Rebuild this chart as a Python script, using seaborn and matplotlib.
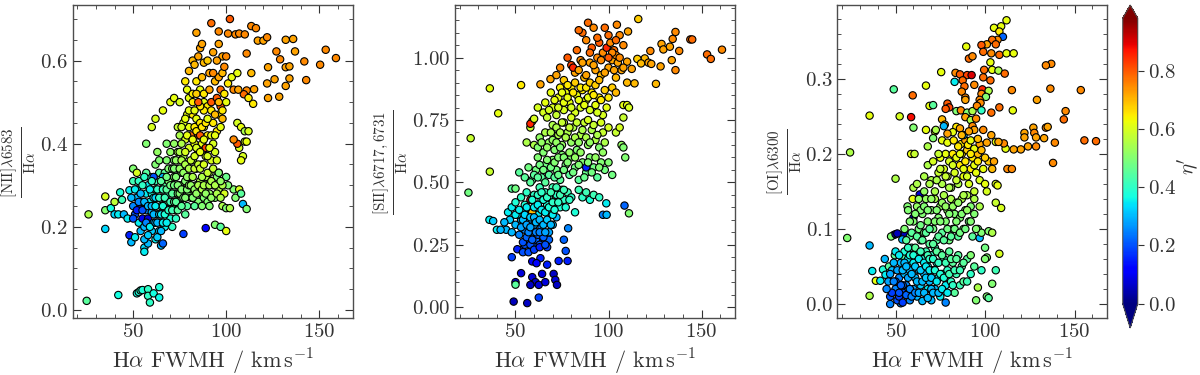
import numpy as np
import pandas as pd
import seaborn as sns
import matplotlib.pyplot as plt
from matplotlib.ticker import MultipleLocator
from matplotlib.cm import ScalarMappable
from matplotlib.colors import Normalize

# ---------------- panel 1 : [NII]/Ha ----------------
nii_fwhm = [
    25, 42, 52, 53, 54, 55, 58, 58, 59, 61, 64, 64,
    26, 35, 35, 35, 38, 40, 40, 42, 43, 44, 45, 47, 48, 48, 49, 50, 50, 51, 52, 56, 56, 58, 62, 65,
    66, 77, 89, 94, 97, 100,
    98, 100, 102, 104, 105, 107, 108, 109, 111, 101, 100, 96,
    106, 108, 110, 110, 109, 108, 107, 106, 104, 112, 111,
    60, 57, 62, 63, 66, 70, 72, 75, 78, 80, 80, 82, 84, 86, 87, 88, 90, 91, 92,
    96, 96, 98, 100, 101, 102, 94, 96, 98, 99, 101, 103, 104, 106, 84, 86, 88, 90, 92,
    95, 97, 83, 85, 93, 95, 97, 99, 79, 82,
    113.5, 116, 105, 107, 110, 117, 120, 122, 132, 136, 127, 137, 153.5, 159, 150.5, 142, 132, 134,
    122.5, 129, 111, 113.5, 126, 134, 143, 132, 115, 111, 122, 128.5, 122.5, 109.5, 114.5, 112, 106.5,
    50, 51, 52, 53, 52, 54, 55, 53, 54, 55,
    56, 57, 57, 58, 58, 59, 59, 60, 60, 60, 56, 58, 57,
    61, 61, 62, 62, 63, 63, 64, 64, 65, 65, 62, 64, 63, 65, 61,
    66, 66, 67, 67, 68, 68, 69, 69, 70, 70, 70, 67, 68, 69, 66,
    71, 71, 72, 72, 73, 73, 74, 74, 75, 75, 72, 73, 75, 74, 71,
    76, 76, 77, 77, 78, 78, 79, 79, 80, 80, 80, 77, 78, 79, 76,
    81, 81, 82, 82, 83, 83, 84, 84, 85, 85, 82, 84, 85, 81, 83,
    86, 86, 87, 87, 88, 88, 89, 89, 90, 90, 86, 88, 90, 89, 87,
    91, 91, 92, 92, 93, 93, 94, 94, 95, 95, 96, 96, 91, 93, 97, 98, 98, 99,
]
nii_ratio = [
    0.022, 0.036, 0.040, 0.043, 0.047, 0.048, 0.050, 0.034, 0.018, 0.040, 0.055, 0.030,
    0.230, 0.195, 0.273, 0.240, 0.245, 0.260, 0.230, 0.230, 0.283, 0.265, 0.230, 0.220, 0.288, 0.180,
    0.163, 0.340, 0.310, 0.175, 0.330, 0.150, 0.140, 0.160, 0.170, 0.155,
    0.160, 0.183, 0.197, 0.205, 0.200, 0.190,
    0.250, 0.245, 0.245, 0.290, 0.270, 0.290, 0.280, 0.255, 0.243, 0.300, 0.320, 0.330,
    0.450, 0.440, 0.430, 0.405, 0.370, 0.360, 0.390, 0.400, 0.410, 0.430, 0.405,
    0.440, 0.400, 0.460, 0.380, 0.480, 0.500, 0.510, 0.500, 0.550, 0.575, 0.510, 0.600, 0.667, 0.630,
    0.640, 0.595, 0.600, 0.570, 0.690,
    0.670, 0.640, 0.610, 0.610, 0.665, 0.700, 0.550, 0.560, 0.570, 0.585, 0.545, 0.560, 0.530, 0.570,
    0.550, 0.530, 0.500, 0.490, 0.500,
    0.510, 0.490, 0.590, 0.610, 0.620, 0.600, 0.530, 0.520, 0.530, 0.520,
    0.683, 0.678, 0.663, 0.665, 0.663, 0.648, 0.648, 0.656, 0.650, 0.652, 0.622, 0.622, 0.626, 0.606,
    0.590, 0.598, 0.584, 0.586,
    0.584, 0.603, 0.617, 0.570, 0.555, 0.557, 0.553, 0.539, 0.531, 0.528, 0.545, 0.513, 0.510, 0.519,
    0.496, 0.510, 0.530,
    0.25, 0.23, 0.27, 0.21, 0.29, 0.245, 0.22, 0.31, 0.19, 0.26,
    0.20, 0.24, 0.28, 0.30, 0.22, 0.26, 0.32, 0.19, 0.235, 0.28, 0.17, 0.18, 0.33,
    0.21, 0.25, 0.29, 0.31, 0.23, 0.27, 0.19, 0.33, 0.25, 0.29, 0.35, 0.36, 0.175, 0.21, 0.32,
    0.23, 0.27, 0.30, 0.33, 0.25, 0.36, 0.28, 0.31, 0.22, 0.34, 0.38, 0.20, 0.40, 0.26, 0.32,
    0.26, 0.30, 0.32, 0.36, 0.24, 0.28, 0.34, 0.38, 0.30, 0.42, 0.40, 0.22, 0.26, 0.44, 0.20,
    0.27, 0.33, 0.29, 0.37, 0.31, 0.41, 0.25, 0.35, 0.28, 0.39, 0.44, 0.45, 0.23, 0.47, 0.40,
    0.27, 0.32, 0.29, 0.36, 0.40, 0.44, 0.30, 0.34, 0.38, 0.42, 0.47, 0.46, 0.26, 0.42, 0.25,
    0.28, 0.31, 0.35, 0.40, 0.44, 0.27, 0.32, 0.37, 0.30, 0.42, 0.45, 0.48, 0.26, 0.39, 0.25,
    0.28, 0.33, 0.36, 0.42, 0.30, 0.45, 0.27, 0.38, 0.32, 0.43, 0.29, 0.47, 0.25, 0.40, 0.44, 0.46,
    0.30, 0.28,
]
nii_eta = [
    0.45, 0.37, 0.37, 0.38, 0.40, 0.38, 0.40, 0.40, 0.40, 0.37, 0.38, 0.36,
    0.55, 0.33, 0.60, 0.50, 0.37, 0.57, 0.33, 0.35, 0.38, 0.42, 0.30, 0.35, 0.35, 0.15,
    0.30, 0.50, 0.42, 0.35, 0.60, 0.33, 0.35, 0.30, 0.35, 0.30,
    0.22, 0.18, 0.12, 0.50, 0.45, 0.62,
    0.55, 0.50, 0.55, 0.50, 0.50, 0.60, 0.45, 0.30, 0.50, 0.50, 0.47, 0.38,
    0.60, 0.62, 0.55, 0.60, 0.60, 0.62, 0.60, 0.80, 0.75, 0.60, 0.62,
    0.60, 0.50, 0.60, 0.52, 0.62, 0.62, 0.62, 0.60, 0.65, 0.70, 0.62, 0.70, 0.72, 0.72,
    0.72, 0.70, 0.68, 0.72, 0.78,
    0.75, 0.72, 0.72, 0.75, 0.75, 0.80, 0.70, 0.72, 0.70, 0.75, 0.65, 0.62, 0.75, 0.62,
    0.65, 0.62, 0.62, 0.65, 0.80,
    0.80, 0.80, 0.70, 0.72, 0.72, 0.72, 0.78, 0.65, 0.62, 0.65,
    0.75, 0.75, 0.75, 0.75, 0.75, 0.72, 0.72, 0.75, 0.72, 0.72, 0.75, 0.72, 0.75, 0.75,
    0.75, 0.75, 0.72, 0.72,
    0.72, 0.75, 0.75, 0.70, 0.72, 0.72, 0.75, 0.72, 0.72, 0.75, 0.72, 0.72, 0.72, 0.78,
    0.65, 0.65, 0.72,
    0.25, 0.20, 0.30, 0.35, 0.35, 0.08, 0.10, 0.40, 0.30, 0.30,
    0.30, 0.25, 0.35, 0.35, 0.08, 0.35, 0.40, 0.32, 0.30, 0.38, 0.30, 0.32, 0.45,
    0.30, 0.35, 0.40, 0.42, 0.33, 0.38, 0.32, 0.45, 0.38, 0.45, 0.50, 0.50, 0.32, 0.35, 0.20,
    0.35, 0.40, 0.45, 0.45, 0.40, 0.50, 0.42, 0.50, 0.38, 0.50, 0.52, 0.35, 0.50, 0.45, 0.30,
    0.45, 0.48, 0.50, 0.50, 0.45, 0.45, 0.50, 0.55, 0.50, 0.55, 0.52, 0.40, 0.45, 0.58, 0.40,
    0.48, 0.50, 0.50, 0.55, 0.50, 0.60, 0.45, 0.55, 0.50, 0.60, 0.62, 0.60, 0.45, 0.62, 0.55,
    0.50, 0.52, 0.55, 0.55, 0.62, 0.65, 0.50, 0.55, 0.60, 0.80, 0.65, 0.62, 0.50, 0.78, 0.45,
    0.52, 0.55, 0.60, 0.62, 0.62, 0.50, 0.55, 0.60, 0.55, 0.65, 0.65, 0.65, 0.50, 0.82, 0.50,
    0.52, 0.55, 0.60, 0.62, 0.55, 0.65, 0.50, 0.60, 0.50, 0.65, 0.55, 0.65, 0.50, 0.60, 0.62, 0.70,
    0.55, 0.60,
]
# denser part of the main cloud
nii_fwhm_core = [
    49, 50, 51, 52, 53, 54, 55, 56, 55, 56, 57, 58, 59, 59, 60, 60, 61, 61, 62, 62,
    62, 63, 63, 64, 64, 65, 65, 65, 66, 66, 66, 67, 67, 68, 68, 68, 69, 69, 70, 70,
    71, 71, 71, 72, 72, 72, 73, 73, 73, 74, 74, 74, 75, 75, 75, 76, 76, 76, 77, 77,
    78, 78, 78, 79, 79, 79, 80, 80, 81, 81, 82, 82, 82, 83, 83, 83, 84, 84, 84, 85,
    85, 86, 86, 86, 87, 87, 87, 88, 88, 88, 89, 89, 90, 90, 91, 91, 92, 92, 93, 94,
    94, 95, 95, 96, 97, 97, 76, 78, 80, 82, 84, 86, 88, 90, 92, 94, 96, 98, 100, 83,
    85, 91, 87, 93,
]
nii_ratio_core = [
    0.27, 0.22, 0.29, 0.24, 0.26, 0.28, 0.24, 0.26, 0.30, 0.32, 0.21, 0.25, 0.20, 0.29, 0.25, 0.31,
    0.23, 0.27, 0.21, 0.25,
    0.27, 0.29, 0.21, 0.23, 0.27, 0.19, 0.23, 0.31, 0.21, 0.25, 0.29, 0.23, 0.27, 0.21, 0.29, 0.32,
    0.24, 0.34, 0.26, 0.30,
    0.24, 0.28, 0.34, 0.26, 0.30, 0.34, 0.26, 0.32, 0.36, 0.28, 0.30, 0.24, 0.28, 0.34, 0.38, 0.25,
    0.29, 0.36, 0.27, 0.33,
    0.27, 0.35, 0.38, 0.29, 0.32, 0.42, 0.30, 0.34, 0.30, 0.36, 0.27, 0.32, 0.41, 0.29, 0.34, 0.37,
    0.28, 0.39, 0.43, 0.30,
    0.35, 0.34, 0.38, 0.42, 0.29, 0.32, 0.44, 0.30, 0.35, 0.41, 0.28, 0.45, 0.33, 0.37, 0.30, 0.39,
    0.27, 0.31, 0.34, 0.30,
    0.42, 0.28, 0.36, 0.33, 0.27, 0.31, 0.44, 0.46, 0.48, 0.50, 0.52, 0.49, 0.52, 0.46, 0.48, 0.47,
    0.50, 0.48, 0.50, 0.48,
    0.50, 0.53, 0.56, 0.57,
]
nii_eta_core = [
    0.30, 0.20, 0.35, 0.15, 0.25, 0.30, 0.20, 0.30, 0.40, 0.40, 0.25, 0.30, 0.35, 0.35, 0.30, 0.40,
    0.30, 0.35, 0.30, 0.35,
    0.33, 0.40, 0.30, 0.33, 0.40, 0.30, 0.35, 0.45, 0.35, 0.38, 0.42, 0.38, 0.42, 0.35, 0.45, 0.48,
    0.40, 0.50, 0.42, 0.48,
    0.42, 0.45, 0.50, 0.45, 0.48, 0.50, 0.45, 0.50, 0.52, 0.48, 0.50, 0.45, 0.50, 0.52, 0.55, 0.45,
    0.50, 0.55, 0.48, 0.52,
    0.50, 0.55, 0.60, 0.50, 0.52, 0.62, 0.52, 0.55, 0.52, 0.58, 0.50, 0.55, 0.62, 0.52, 0.58, 0.60,
    0.52, 0.60, 0.65, 0.55,
    0.58, 0.58, 0.62, 0.80, 0.55, 0.55, 0.65, 0.55, 0.60, 0.62, 0.52, 0.65, 0.58, 0.60, 0.55, 0.62,
    0.52, 0.55, 0.58, 0.55,
    0.62, 0.55, 0.60, 0.50, 0.55, 0.52, 0.60, 0.62, 0.62, 0.65, 0.68, 0.65, 0.65, 0.62, 0.65, 0.70,
    0.70, 0.65, 0.62, 0.62,
    0.80, 0.72, 0.70, 0.75,
]

# ---------------- panel 2 : [SII]/Ha ----------------
sii_fwhm = [
    53, 59, 60.7, 62.5, 58, 64.3, 67, 70.5, 71.4, 72.3, 66, 63.4, 59, 61.3, 73.2, 78, 49, 56.3, 62.5, 50,
    50, 48, 53.6, 51, 67, 76, 77, 78.3, 97, 99, 108.6, 111, 98.8, 58, 61, 64, 55, 68, 57, 62,
    36.2, 40.7, 25.9, 36.2, 24.7, 53, 63.4, 68.8,
    45, 47, 48, 50, 52, 53, 54, 55, 56, 57, 58, 59, 60, 61, 62, 63, 64, 65, 66, 68, 70, 72,
    54, 57, 60, 63, 66, 36, 38, 40, 42, 44, 46,
    48, 50, 51, 53, 54, 55, 56, 57, 58, 59, 60, 61, 62, 63, 64, 65, 66, 67, 68, 69, 70,
    71, 72, 74, 75, 76, 78, 80, 82, 84, 86, 88, 90, 92, 95, 59,
    52, 55, 57, 59, 61, 62, 64, 66, 68, 70, 72, 74, 75, 77, 79, 80, 82, 84, 86, 88,
    90, 92, 94, 96, 98, 100, 102, 88, 48, 50,
    56, 58, 60, 62, 63, 65, 66, 68, 70, 71, 73, 75, 76, 78, 80, 81, 83, 85, 87, 89,
    91, 93, 95, 97, 104, 106, 107, 108, 109, 59, 58,
    62, 65, 66, 67, 69, 70, 72, 73, 74, 76, 77, 79, 80, 82, 83, 85, 86, 88, 90, 91,
    93, 95, 97, 99, 108, 110, 111, 108, 60,
    72, 74, 76, 78, 80, 82, 83, 85, 86, 87, 88, 89, 90, 91, 92, 93, 94, 95, 96, 97,
    98, 99, 100, 101, 102, 103, 104, 105, 106, 107, 108, 110, 84, 81,
    116, 104.5, 110.5, 136, 134.5, 144, 145, 128.5, 122.5, 129.5, 133, 138, 153, 155,
    161, 119.5, 121.5, 123, 134, 115.5, 117.5, 128, 136, 125.5, 114, 112.5, 110, 104,
]
sii_ratio = [
    0.136, 0.120, 0.100, 0.089, 0.089, 0.133, 0.170, 0.133, 0.109, 0.089, 0.100, 0.196, 0.183, 0.176,
    0.185, 0.185, 0.022, 0.016, 0.038, 0.100,
    0.090, 0.200, 0.230, 0.232, 0.240, 0.270, 0.225, 0.316, 0.370, 0.370, 0.407, 0.376, 0.416, 0.250,
    0.255, 0.260, 0.250, 0.270, 0.270, 0.280,
    0.877, 0.777, 0.677, 0.543, 0.459, 0.890, 0.893, 0.914,
    0.31, 0.35, 0.30, 0.33, 0.29, 0.35, 0.26, 0.31, 0.28, 0.34, 0.25, 0.30, 0.33, 0.27, 0.29, 0.25,
    0.32, 0.28, 0.34, 0.30, 0.33, 0.36,
    0.22, 0.22, 0.23, 0.24, 0.25, 0.35, 0.345, 0.31, 0.31, 0.34, 0.38,
    0.40, 0.42, 0.37, 0.44, 0.39, 0.41, 0.46, 0.37, 0.43, 0.39, 0.45, 0.41, 0.37, 0.48, 0.43, 0.39,
    0.46, 0.41, 0.44, 0.38, 0.48,
    0.42, 0.45, 0.40, 0.47, 0.43, 0.46, 0.44, 0.38, 0.47, 0.44, 0.46, 0.43, 0.45, 0.44, 0.38,
    0.54, 0.52, 0.56, 0.51, 0.55, 0.60, 0.52, 0.57, 0.53, 0.59, 0.55, 0.51, 0.61, 0.57, 0.53, 0.60,
    0.56, 0.51, 0.58, 0.54,
    0.60, 0.56, 0.52, 0.58, 0.55, 0.58, 0.53, 0.56, 0.475, 0.475,
    0.66, 0.72, 0.65, 0.64, 0.68, 0.62, 0.70, 0.66, 0.73, 0.63, 0.69, 0.65, 0.74, 0.70, 0.66, 0.72,
    0.63, 0.69, 0.74, 0.65,
    0.71, 0.67, 0.64, 0.70, 0.70, 0.72, 0.65, 0.64, 0.60, 0.745, 0.735,
    0.80, 0.78, 0.82, 0.76, 0.86, 0.80, 0.77, 0.84, 0.88, 0.79, 0.86, 0.82, 0.88, 0.78, 0.85, 0.80,
    0.87, 0.83, 0.79, 0.86,
    0.81, 0.84, 0.77, 0.80, 0.81, 0.81, 0.80, 0.76, 0.755,
    0.93, 0.96, 0.91, 1.00, 0.97, 0.94, 1.03, 0.99, 1.10, 0.92, 1.07, 1.14, 0.98, 1.04, 1.12, 0.95,
    1.00, 1.06, 0.93, 1.02,
    1.12, 1.04, 0.96, 1.06, 0.99, 1.03, 0.92, 0.98, 1.09, 0.95, 1.05, 0.90, 1.11, 0.96,
    1.155, 1.132, 1.105, 1.103, 1.075, 1.073, 1.073, 1.055, 1.027, 1.033, 1.044, 1.027, 1.013, 0.995,
    1.032, 0.997, 0.980, 0.975, 0.990, 0.995, 0.977, 0.965, 0.950, 0.895, 0.897, 0.955, 0.984, 1.010,
]
sii_eta = [
    0.08, 0.08, 0.06, 0.08, 0.06, 0.08, 0.15, 0.06, 0.08, 0.06, 0.08, 0.15, 0.10, 0.12, 0.15, 0.15,
    0.05, 0.06, 0.18, 0.08,
    0.45, 0.18, 0.18, 0.15, 0.18, 0.22, 0.20, 0.25, 0.25, 0.30, 0.22, 0.50, 0.35, 0.15, 0.20, 0.20,
    0.20, 0.22, 0.20, 0.20,
    0.62, 0.62, 0.58, 0.58, 0.48, 0.65, 0.72, 0.72,
    0.30, 0.32, 0.30, 0.30, 0.25, 0.30, 0.20, 0.25, 0.22, 0.28, 0.20, 0.25, 0.28, 0.22, 0.22, 0.20,
    0.25, 0.22, 0.30, 0.28, 0.30, 0.30,
    0.20, 0.20, 0.18, 0.15, 0.20, 0.35, 0.32, 0.35, 0.30, 0.30, 0.35,
    0.35, 0.38, 0.35, 0.40, 0.35, 0.38, 0.40, 0.33, 0.90, 0.35, 0.40, 0.38, 0.35, 0.42, 0.38, 0.35,
    0.40, 0.38, 0.40, 0.35, 0.42,
    0.40, 0.40, 0.38, 0.42, 0.40, 0.42, 0.40, 0.38, 0.42, 0.40, 0.42, 0.38, 0.42, 0.40, 0.70,
    0.45, 0.45, 0.48, 0.45, 0.48, 0.50, 0.45, 0.48, 0.45, 0.50, 0.48, 0.45, 0.50, 0.48, 0.45, 0.50,
    0.48, 0.45, 0.50, 0.47,
    0.50, 0.48, 0.45, 0.50, 0.48, 0.50, 0.48, 0.15, 0.45, 0.48,
    0.55, 0.58, 0.55, 0.50, 0.52, 0.50, 0.55, 0.52, 0.55, 0.50, 0.55, 0.52, 0.58, 0.55, 0.52, 0.55,
    0.50, 0.55, 0.58, 0.52,
    0.55, 0.55, 0.50, 0.58, 0.58, 0.60, 0.52, 0.50, 0.50, 0.60, 0.85,
    0.60, 0.60, 0.62, 0.58, 0.62, 0.60, 0.58, 0.62, 0.64, 0.60, 0.62, 0.62, 0.65, 0.60, 0.62, 0.60,
    0.65, 0.62, 0.60, 0.65,
    0.62, 0.65, 0.60, 0.62, 0.62, 0.62, 0.60, 0.58, 0.60,
    0.72, 0.75, 0.68, 0.80, 0.82, 0.72, 0.78, 0.75, 0.78, 0.70, 0.75, 0.78, 0.72, 0.80, 0.75, 0.72,
    0.75, 0.80, 0.70, 0.75,
    0.78, 0.85, 0.72, 0.75, 0.72, 0.78, 0.70, 0.72, 0.75, 0.72, 0.75, 0.70, 0.78, 0.85,
    0.68, 0.75, 0.72, 0.75, 0.75, 0.78, 0.78, 0.72, 0.75, 0.72, 0.72, 0.75, 0.78, 0.78,
    0.75, 0.70, 0.72, 0.72, 0.72, 0.68, 0.70, 0.72, 0.75, 0.70, 0.70, 0.72, 0.72, 0.75,
]
sii_fwhm_core = [
    50, 52, 53, 54, 55, 56, 56, 57, 58, 58, 59, 59, 60, 60, 61, 61, 62, 62, 63, 63,
    64, 64, 65, 65, 66, 66, 67, 67, 68, 69, 69, 70, 70, 71, 72, 73, 74, 76, 77, 79,
    58, 60, 62, 63, 65, 66, 67, 69, 71, 71, 73, 73, 76, 76, 78, 79, 81, 82, 84, 85,
    87, 89, 91, 93, 95, 97, 64, 67, 69, 70, 72, 72, 74, 74, 75, 77, 79, 80, 82, 83,
    84, 86, 88, 89, 90, 92, 94, 96, 98, 100, 68, 71, 73, 75, 76, 78, 78, 80, 81, 82,
    84, 85, 87, 88, 89, 90, 92, 93, 94, 96, 98, 100, 102, 104, 84, 86, 88, 90, 92, 94,
    96, 98, 100, 102, 104, 106, 108, 95, 100, 103,
]
sii_ratio_core = [
    0.37, 0.39, 0.32, 0.35, 0.37, 0.33, 0.40, 0.30, 0.36, 0.32, 0.43, 0.27, 0.36, 0.40, 0.30, 0.34,
    0.41, 0.45, 0.30, 0.35,
    0.39, 0.46, 0.33, 0.43, 0.30, 0.38, 0.35, 0.44, 0.40, 0.33, 0.46, 0.37, 0.42, 0.39, 0.48, 0.42,
    0.45, 0.47, 0.40, 0.43,
    0.50, 0.53, 0.52, 0.57, 0.55, 0.50, 0.59, 0.56, 0.52, 0.58, 0.60, 0.53, 0.55, 0.60, 0.58, 0.62,
    0.54, 0.60, 0.57, 0.62,
    0.52, 0.58, 0.54, 0.60, 0.56, 0.62, 0.66, 0.64, 0.70, 0.67, 0.72, 0.66, 0.70, 0.64, 0.74, 0.68,
    0.72, 0.76, 0.68, 0.74,
    0.66, 0.71, 0.68, 0.75, 0.66, 0.73, 0.69, 0.74, 0.66, 0.72, 0.79, 0.83, 0.80, 0.86, 0.82, 0.89,
    0.84, 0.80, 0.86, 0.90,
    0.83, 0.88, 0.81, 0.88, 0.84, 0.90, 0.85, 0.89, 0.78, 0.83, 0.87, 0.84, 0.88, 0.86, 0.95, 0.98,
    0.93, 1.02, 0.97, 1.08,
    0.99, 0.94, 1.09, 1.02, 1.07, 1.00, 0.96, 0.91, 1.00, 0.95,
]
sii_eta_core = [
    0.35, 0.35, 0.28, 0.30, 0.33, 0.28, 0.35, 0.25, 0.32, 0.28, 0.38, 0.22, 0.30, 0.35, 0.25, 0.30,
    0.35, 0.40, 0.25, 0.30,
    0.35, 0.40, 0.30, 0.38, 0.28, 0.35, 0.32, 0.40, 0.38, 0.30, 0.42, 0.35, 0.40, 0.38, 0.42, 0.40,
    0.42, 0.42, 0.38, 0.40,
    0.45, 0.45, 0.45, 0.48, 0.48, 0.45, 0.50, 0.48, 0.45, 0.50, 0.50, 0.47, 0.48, 0.50, 0.50, 0.52,
    0.48, 0.52, 0.50, 0.52,
    0.47, 0.50, 0.48, 0.52, 0.50, 0.52, 0.52, 0.52, 0.55, 0.52, 0.55, 0.52, 0.55, 0.50, 0.58, 0.55,
    0.58, 0.60, 0.55, 0.58,
    0.52, 0.55, 0.55, 0.60, 0.52, 0.58, 0.55, 0.60, 0.55, 0.60, 0.60, 0.62, 0.60, 0.62, 0.62, 0.65,
    0.62, 0.60, 0.65, 0.68,
    0.62, 0.65, 0.62, 0.65, 0.62, 0.68, 0.65, 0.68, 0.60, 0.65, 0.68, 0.65, 0.68, 0.70, 0.72, 0.72,
    0.72, 0.78, 0.72, 0.78,
    0.75, 0.72, 0.78, 0.75, 0.78, 0.75, 0.72, 0.70, 0.80, 0.72,
]

# ---------------- panel 3 : [OI]/Ha ----------------
oi_fwhm = [
    24.6, 23, 35.5, 35.5, 35.5, 49, 59.6, 58.7, 52.3, 50, 60, 58.7, 60.6, 59.6, 56.7, 63.5, 60, 55,
    49, 47.5, 53.8, 49.6, 53.8, 37, 39, 41.5, 43, 44.4, 46.3, 47, 52.9, 50, 51,
    44, 46, 47, 48, 50, 50, 51, 52, 53, 54, 55, 55, 56, 57, 58, 58, 59, 60, 60, 61,
    62, 62, 63, 64, 65, 65, 66, 67, 68, 68, 69, 70, 70, 71, 72, 72, 73, 74, 75, 75,
    76, 77, 78, 78, 79, 80, 81, 82, 83, 84, 85, 86, 87, 88, 90, 92, 94, 95, 96, 98,
    101, 102, 104, 106, 48, 50, 52, 54, 56, 58,
    55, 57, 58, 60, 61, 62, 63, 64, 65, 66, 67, 68, 69, 70, 71, 72, 73, 74, 75, 76,
    77, 78, 79, 80, 81, 82, 83, 84, 85, 86, 87, 88, 89, 90, 91, 92, 93, 94, 96, 97,
    98, 100, 101, 102, 104, 108, 100,
    60, 62, 64, 66, 68, 70, 71, 72, 74, 75, 76, 77, 78, 79, 80, 81, 82, 83, 84, 85,
    86, 87, 88, 89, 90, 91, 92, 93, 94, 95, 96, 97, 99, 100, 101, 102, 104, 105, 106, 107,
    106, 109, 68, 72, 74,
    112, 109, 105, 108, 110, 107, 104, 101, 106, 98, 89.5, 99, 103.5, 108, 112, 91, 93, 103,
    99.5, 104, 107.5, 111, 75.5, 83.5, 86, 90, 92.5, 99, 103, 67, 83, 87.5, 88.5, 87, 89, 94,
    98.5, 98, 102, 100.5, 97, 97.5, 89, 79, 80, 69, 71, 78, 84, 86.5, 90, 93, 95.5, 98,
    103.5, 89, 92, 95, 76, 77.5, 84, 86, 93, 94, 99, 103.5, 82, 79, 67, 72.5, 71, 76,
    79, 82.5, 86.5, 89, 90.5, 92, 94, 97, 101, 106, 88, 77,
    153.5, 137, 134, 136.5, 129, 145, 144, 127, 134, 135, 122, 122, 127.5, 128.5, 133, 155.5,
    162, 139, 128.5, 124, 120, 116, 111.5, 110.5, 138, 112.5, 115, 107.5, 116, 115, 115.5, 108,
]
oi_ratio = [
    0.202, 0.088, 0.078, 0.011, 0.251, 0.286, 0.278, 0.249, 0.250, 0.167, 0.235, 0.200, 0.200,
    0.140, 0.130, 0.146, 0.115, 0.093,
    0.092, 0.090, 0.086, 0.065, 0.063, 0.044, 0.031, 0.031, 0.046, 0.039, 0.050, 0.000, 0.001,
    0.093, 0.094,
    0.060, 0.030, 0.010, 0.045, 0.020, 0.070, 0.005, 0.035, 0.055, 0.015, 0.040, 0.070, 0.025,
    0.060, 0.005, 0.045, 0.075, 0.020, 0.055, 0.035,
    0.065, 0.010, 0.045, 0.025, 0.060, 0.004, 0.040, 0.070, 0.020, 0.050, 0.030, 0.065, 0.005,
    0.045, 0.075, 0.020, 0.055, 0.035, 0.068, 0.010,
    0.040, 0.060, 0.025, 0.002, 0.045, 0.070, 0.030, 0.055, 0.015, 0.040, 0.065, 0.025, 0.050,
    0.030, 0.060, 0.040, 0.050, 0.005, 0.022, 0.045,
    0.010, 0.008, 0.027, 0.045, 0.015, 0.030, 0.010, 0.025, 0.012, 0.020,
    0.100, 0.125, 0.090, 0.110, 0.075, 0.130, 0.100, 0.085, 0.120, 0.095, 0.140, 0.110, 0.080,
    0.125, 0.100, 0.140, 0.085, 0.115, 0.130, 0.095,
    0.145, 0.110, 0.125, 0.085, 0.140, 0.100, 0.120, 0.135, 0.090, 0.115, 0.140, 0.100, 0.125,
    0.145, 0.110, 0.130, 0.090, 0.120, 0.100, 0.088,
    0.095, 0.075, 0.062, 0.097, 0.095, 0.067, 0.060,
    0.155, 0.160, 0.125, 0.150, 0.185, 0.165, 0.190, 0.150, 0.175, 0.195, 0.160, 0.180, 0.200,
    0.170, 0.190, 0.155, 0.200, 0.175, 0.195, 0.160,
    0.185, 0.200, 0.170, 0.190, 0.205, 0.160, 0.180, 0.195, 0.150, 0.175, 0.200, 0.165, 0.180,
    0.160, 0.150, 0.190, 0.180, 0.190, 0.160, 0.158,
    0.135, 0.128, 0.210, 0.230, 0.200,
    0.378, 0.370, 0.368, 0.363, 0.356, 0.352, 0.352, 0.346, 0.346, 0.345, 0.343, 0.336, 0.334,
    0.332, 0.334, 0.327, 0.330, 0.322,
    0.312, 0.312, 0.311, 0.307, 0.309, 0.308, 0.306, 0.305, 0.305, 0.302, 0.298, 0.291, 0.296,
    0.298, 0.290, 0.283, 0.275, 0.292,
    0.286, 0.280, 0.284, 0.276, 0.272, 0.268, 0.272, 0.267, 0.262, 0.264, 0.265, 0.260, 0.257,
    0.258, 0.255, 0.257, 0.264, 0.258,
    0.255, 0.249, 0.245, 0.247, 0.246, 0.239, 0.236, 0.234, 0.237, 0.232, 0.232, 0.225, 0.229,
    0.227, 0.232, 0.232, 0.221, 0.218,
    0.215, 0.218, 0.213, 0.218, 0.212, 0.218, 0.207, 0.213, 0.215, 0.216, 0.225, 0.237,
    0.285, 0.320, 0.318, 0.287, 0.272, 0.257, 0.246, 0.235, 0.235, 0.236, 0.228, 0.222, 0.228,
    0.222, 0.221, 0.218,
    0.217, 0.215, 0.210, 0.210, 0.206, 0.206, 0.207, 0.214, 0.188, 0.180, 0.180, 0.216, 0.334,
    0.285, 0.258, 0.262,
]
oi_eta = [
    0.55, 0.50, 0.30, 0.55, 0.62, 0.45, 0.78, 0.88, 0.60, 0.55, 0.50, 0.62, 0.58, 0.62, 0.50, 0.08,
    0.05, 0.05,
    0.05, 0.50, 0.30, 0.45, 0.45, 0.35, 0.62, 0.35, 0.38, 0.35, 0.45, 0.25, 0.25, 0.05, 0.05,
    0.30, 0.28, 0.20, 0.30, 0.25, 0.35, 0.20, 0.25, 0.30, 0.20, 0.30, 0.38, 0.25, 0.35, 0.25, 0.30,
    0.40, 0.28, 0.35, 0.30,
    0.40, 0.30, 0.30, 0.32, 0.38, 0.30, 0.30, 0.42, 0.35, 0.35, 0.30, 0.40, 0.30, 0.35, 0.42, 0.30,
    0.38, 0.35, 0.45, 0.35,
    0.35, 0.42, 0.35, 0.25, 0.40, 0.45, 0.40, 0.45, 0.45, 0.42, 0.45, 0.42, 0.45, 0.45, 0.45, 0.40,
    0.45, 0.50, 0.55, 0.40,
    0.50, 0.45, 0.50, 0.42, 0.18, 0.20, 0.18, 0.22, 0.20, 0.15,
    0.50, 0.50, 0.45, 0.50, 0.45, 0.52, 0.48, 0.45, 0.50, 0.48, 0.52, 0.50, 0.45, 0.50, 0.48, 0.55,
    0.45, 0.50, 0.52, 0.45,
    0.55, 0.50, 0.52, 0.48, 0.55, 0.50, 0.50, 0.55, 0.45, 0.50, 0.55, 0.50, 0.50, 0.55, 0.48, 0.50,
    0.45, 0.50, 0.48, 0.30,
    0.50, 0.48, 0.50, 0.50, 0.55, 0.60, 0.50,
    0.55, 0.55, 0.50, 0.52, 0.55, 0.55, 0.60, 0.55, 0.58, 0.62, 0.55, 0.60, 0.62, 0.58, 0.60, 0.55,
    0.65, 0.60, 0.62, 0.55,
    0.65, 0.65, 0.62, 0.65, 0.68, 0.60, 0.65, 0.65, 0.58, 0.62, 0.70, 0.60, 0.62, 0.62, 0.60, 0.68,
    0.70, 0.72, 0.60, 0.62,
    0.58, 0.60, 0.55, 0.60, 0.58,
    0.62, 0.62, 0.62, 0.65, 0.22, 0.75, 0.78, 0.72, 0.78, 0.80, 0.62, 0.78, 0.75, 0.78, 0.62, 0.78,
    0.75, 0.62,
    0.78, 0.62, 0.55, 0.78, 0.62, 0.75, 0.80, 0.82, 0.90, 0.78, 0.78, 0.62, 0.35, 0.78, 0.78, 0.75,
    0.75, 0.75,
    0.85, 0.75, 0.55, 0.50, 0.75, 0.75, 0.72, 0.80, 0.82, 0.62, 0.45, 0.80, 0.50, 0.75, 0.50, 0.55,
    0.75, 0.40,
    0.78, 0.72, 0.55, 0.75, 0.70, 0.72, 0.65, 0.72, 0.75, 0.72, 0.75, 0.72, 0.62, 0.72, 0.62, 0.55,
    0.50, 0.62,
    0.62, 0.65, 0.65, 0.72, 0.65, 0.62, 0.62, 0.72, 0.72, 0.62, 0.30, 0.30,
    0.75, 0.75, 0.75, 0.75, 0.72, 0.75, 0.78, 0.72, 0.75, 0.72, 0.72, 0.72, 0.75, 0.72, 0.72, 0.78,
    0.78, 0.75, 0.75, 0.72, 0.72, 0.72, 0.62, 0.75, 0.75, 0.75, 0.75, 0.72, 0.62, 0.75, 0.62, 0.78,
]
oi_fwhm_core = [
    45, 47, 49, 49, 51, 52, 52, 53, 54, 54, 55, 56, 56, 57, 57, 58, 58, 59, 59, 60,
    61, 61, 62, 63, 63, 64, 64, 65, 66, 66, 67, 67, 68, 68, 69, 69, 70, 70, 71, 71,
    72, 73, 73, 74, 74, 75, 76, 76, 77, 78, 79, 80, 81, 82, 83, 84, 86, 88, 90, 92,
    56, 58, 59, 61, 62, 63, 64, 65, 66, 67, 68, 69, 70, 71, 72, 73, 74, 75, 76, 77,
    78, 79, 80, 81, 82, 83, 84, 85, 86, 87, 88, 89, 90, 92, 94, 95, 97, 66, 69, 73,
    75, 78, 80, 82, 84, 86, 88, 90, 92, 94, 96, 98, 100, 85, 87, 91, 96,
]
oi_ratio_core = [
    0.020, 0.040, 0.030, 0.055, 0.045, 0.015, 0.065, 0.025, 0.045, 0.002, 0.055, 0.012, 0.050,
    0.035, 0.075, 0.020, 0.065, 0.010, 0.040, 0.065,
    0.015, 0.050, 0.030, 0.060, 0.015, 0.045, 0.070, 0.030, 0.055, 0.015, 0.035, 0.050, 0.065,
    0.008, 0.045, 0.060, 0.020, 0.035, 0.060, 0.015,
    0.045, 0.030, 0.070, 0.015, 0.055, 0.040, 0.020, 0.065, 0.035, 0.055, 0.015, 0.040, 0.060,
    0.025, 0.045, 0.060, 0.045, 0.055, 0.030, 0.065,
    0.085, 0.110, 0.095, 0.120, 0.090, 0.140, 0.105, 0.085, 0.130, 0.095, 0.125, 0.100, 0.140,
    0.080, 0.110, 0.125, 0.090, 0.110, 0.135, 0.085,
    0.130, 0.100, 0.120, 0.090, 0.130, 0.100, 0.110, 0.135, 0.095, 0.120, 0.145, 0.100, 0.125,
    0.110, 0.140, 0.100, 0.130, 0.170, 0.160, 0.165,
    0.180, 0.170, 0.155, 0.185, 0.165, 0.200, 0.180, 0.170, 0.200, 0.185, 0.190, 0.205, 0.195,
    0.210, 0.225, 0.230, 0.220,
]
oi_eta_core = [
    0.25, 0.28, 0.25, 0.30, 0.28, 0.20, 0.35, 0.22, 0.30, 0.18, 0.30, 0.22, 0.30, 0.28, 0.40, 0.25,
    0.38, 0.25, 0.30, 0.38,
    0.25, 0.32, 0.30, 0.35, 0.28, 0.32, 0.42, 0.30, 0.35, 0.30, 0.32, 0.35, 0.42, 0.30, 0.35, 0.40,
    0.30, 0.32, 0.40, 0.30,
    0.38, 0.35, 0.45, 0.30, 0.40, 0.38, 0.35, 0.45, 0.38, 0.42, 0.35, 0.42, 0.45, 0.40, 0.42, 0.45,
    0.42, 0.45, 0.42, 0.50,
    0.45, 0.50, 0.45, 0.50, 0.45, 0.52, 0.48, 0.45, 0.50, 0.45, 0.50, 0.45, 0.52, 0.45, 0.50, 0.50,
    0.45, 0.50, 0.52, 0.45,
    0.52, 0.48, 0.50, 0.45, 0.52, 0.48, 0.50, 0.52, 0.48, 0.50, 0.55, 0.48, 0.52, 0.50, 0.55, 0.50,
    0.55, 0.55, 0.55, 0.55,
    0.58, 0.58, 0.55, 0.60, 0.58, 0.62, 0.62, 0.60, 0.65, 0.62, 0.65, 0.70, 0.68, 0.65, 0.70, 0.72,
    0.70,
]

sns.set_style("ticks")
plt.rcParams["font.family"] = ["cmr10", "DejaVu Serif"]
plt.rcParams["mathtext.fontset"] = "cm"
plt.rcParams["axes.formatter.use_mathtext"] = True
plt.rcParams["axes.unicode_minus"] = False

vmin, vmax = 0.0, 0.98
norm = Normalize(vmin, vmax)
jet = plt.get_cmap("jet")

fig = plt.figure(figsize=(12, 3.75), dpi=100)
ax1 = fig.add_axes([0.0606, 0.1512, 0.2333, 0.8347])
ax2 = fig.add_axes([0.3792, 0.1512, 0.2333, 0.8347])
ax3 = fig.add_axes([0.6978, 0.1512, 0.2245, 0.8347])
cax = fig.add_axes([0.9356, 0.1253, 0.0125, 0.8613])

panels = [
    (ax1, nii_fwhm + nii_fwhm_core, nii_ratio + nii_ratio_core, nii_eta + nii_eta_core,
     r"$\frac{[\mathrm{NII}]\lambda6583}{\mathrm{H}\alpha}$", (-0.02, 0.733), 0.2, 0.05, -0.125),
    (ax2, sii_fwhm + sii_fwhm_core, sii_ratio + sii_ratio_core, sii_eta + sii_eta_core,
     r"$\frac{[\mathrm{SII}]\lambda6717,6731}{\mathrm{H}\alpha}$", (-0.045, 1.21), 0.25, 0.05, -0.16),
    (ax3, oi_fwhm + oi_fwhm_core, oi_ratio + oi_ratio_core, oi_eta + oi_eta_core,
     r"$\frac{[\mathrm{OI}]\lambda6300}{\mathrm{H}\alpha}$", (-0.019, 0.398), 0.1, 0.02, -0.122),
]

for ax, xv, yv, ev, ylab, ylim, major, minor, labx in panels:
    assert len(xv) == len(yv) == len(ev), (len(xv), len(yv), len(ev))
    df = pd.DataFrame({"fwhm": xv, "ratio": yv, "eta": ev})
    sns.scatterplot(data=df, x="fwhm", y="ratio", hue="eta", palette=jet,
                    hue_norm=norm, legend=False, s=28,
                    edgecolor="black", linewidth=0.8, ax=ax)
    ax.set_xlim(17.5, 168)
    ax.set_ylim(*ylim)
    ax.xaxis.set_major_locator(MultipleLocator(50))
    ax.xaxis.set_minor_locator(MultipleLocator(10))
    ax.yaxis.set_major_locator(MultipleLocator(major))
    ax.yaxis.set_minor_locator(MultipleLocator(minor))
    ax.tick_params(which="both", direction="in", top=True, right=True, labelsize=15, colors="0.2")
    ax.tick_params(which="major", length=6, width=0.8)
    ax.tick_params(which="minor", length=3, width=0.6)
    for sp in ax.spines.values():
        sp.set_color("0.3")
        sp.set_linewidth(1.0)
    ax.set_xlabel(r"H$\alpha$ FWMH / km$\,$s$^{-1}$", fontsize=16, color="0.2")
    ax.set_ylabel(ylab, fontsize=15.5, color="0.2")
    ax.yaxis.set_label_coords(labx, 0.5)

sm = ScalarMappable(norm=norm, cmap=jet)
cb = fig.colorbar(sm, cax=cax, extend="both", extendfrac=(0.085, 0.046))
cb.set_ticks([0.0, 0.2, 0.4, 0.6, 0.8])
cb.ax.tick_params(labelsize=15, length=4, width=0.8, colors="0.2")
cb.outline.set_edgecolor("0.3")
cb.set_label(r"$\eta'$", fontsize=15, color="0.2")
cb.ax.yaxis.set_label_coords(3.55, 0.48)

fig.savefig("out.png", dpi=100)
